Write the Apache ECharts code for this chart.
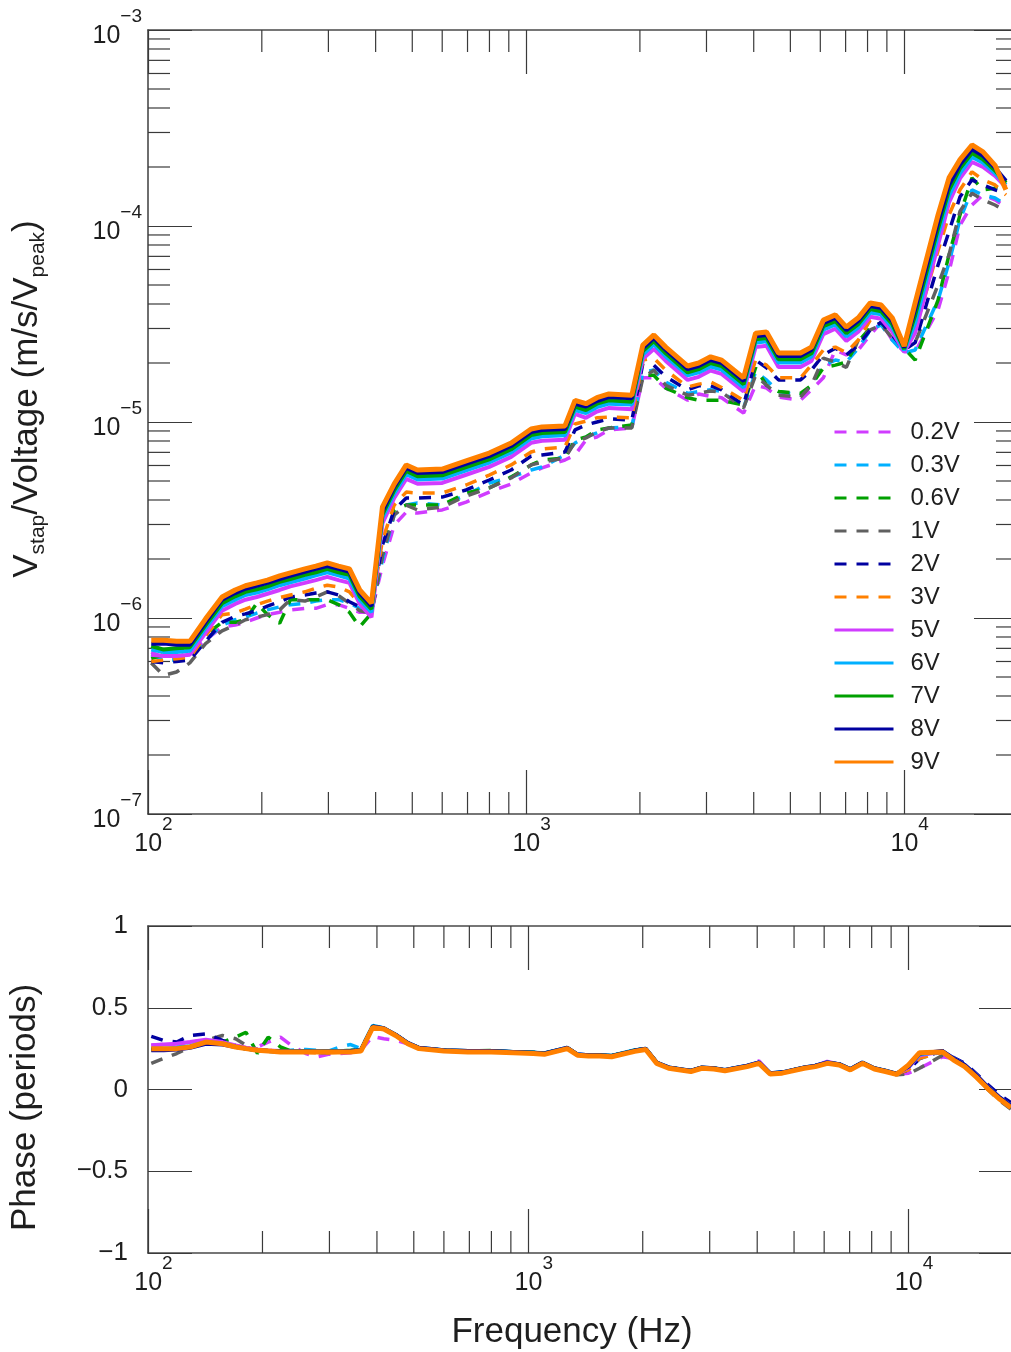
<!DOCTYPE html>
<html>
<head>
<meta charset="utf-8">
<script src="https://cdn.jsdelivr.net/npm/echarts@6/dist/echarts.min.js"></script>
<style>
html, body { margin: 0; padding: 0; background: #fff; overflow: hidden; }
#chart { width: 1011px; height: 1352px; }
</style>
</head>
<body>
<div id="chart"></div>
<script>
// frequency points (Hz), shared by every series
const freq = [102, 110, 119, 129, 142, 157, 170, 181, 194, 207,
  223, 238, 260, 278, 298, 319, 341, 363, 390, 417,
  448, 482, 516, 600, 694, 799, 913, 1031, 1102, 1267,
  1347, 1440, 1539, 1656, 1904, 2036, 2177, 2341, 2676, 2861,
  3077, 3290, 3761, 4045, 4324, 4651, 5317, 5684, 6113, 6576,
  7031, 7562, 8134, 8696, 9297, 10000, 10690, 12290, 13140, 14050,
  15110, 16160, 17390, 18580];

const names = ['0.2V', '0.3V', '0.6V', '1V', '2V', '3V', '5V', '6V', '7V', '8V', '9V'];
const colors = ['#d03cff', '#00b0ff', '#00a000', '#606060', '#0000a0', '#ff8000',
  '#d03cff', '#00b0ff', '#00a000', '#0000a0', '#ff8000'];
const dashed = [true, true, true, true, true, true, false, false, false, false, false];

// magnitude, in 1e-6 m/s/Vpeak
const mag_02V = [0.67, 0.63, 0.63, 0.67, 0.77, 0.90, 0.92, 0.95, 1.00, 1.04,
  1.07, 1.10, 1.12, 1.12, 1.17, 1.17, 1.12, 1.07, 1.07, 1.86,
  2.98, 3.47, 3.43, 3.56, 3.90, 4.39, 4.83, 5.50, 5.83, 6.40,
  6.79, 8.10, 8.39, 9.11, 9.32, 16.8, 16.8, 14.9, 12.9, 13.9,
  13.5, 13.3, 11.1, 15.4, 14.9, 13.4, 12.9, 14.6, 16.8, 23.3,
  22.0, 23.3, 27.8, 32.3, 26.2, 22.8, 22.8, 37.3, 58.4, 101,
  128, 144, 136, 125];
const mag_03V = [0.65, 0.61, 0.61, 0.65, 0.77, 0.92, 0.98, 1.01, 1.06, 1.10,
  1.14, 1.17, 1.19, 1.22, 1.24, 1.24, 1.19, 1.12, 1.10, 1.98,
  3.36, 3.77, 3.86, 3.77, 4.24, 4.88, 5.24, 5.69, 5.89, 6.79,
  7.81, 8.39, 8.79, 9.32, 9.44, 18.0, 18.4, 16.0, 14.0, 14.3,
  14.6, 14.3, 11.8, 18.0, 16.4, 14.3, 13.7, 15.4, 19.5, 20.7,
  20.2, 23.8, 29.5, 31.3, 26.2, 22.5, 23.3, 41.9, 65.0, 108,
  153, 144, 139, 128];
const mag_06V = [0.62, 0.65, 0.67, 0.73, 0.82, 0.95, 0.95, 0.98, 1.19, 1.04,
  0.94, 1.24, 1.24, 1.24, 1.24, 1.17, 1.07, 0.90, 1.06, 2.10,
  3.56, 3.77, 3.77, 3.77, 4.34, 4.61, 5.24, 6.04, 6.40, 6.55,
  8.10, 8.39, 9.11, 9.32, 9.66, 17.3, 17.3, 14.9, 13.3, 12.9,
  12.9, 12.9, 12.2, 18.9, 15.4, 14.3, 14.0, 15.4, 18.9, 19.5,
  20.2, 25.7, 30.3, 32.1, 27.8, 23.8, 20.7, 41.9, 71.3, 114,
  176, 153, 156, 172];
const mag_1V = [0.59, 0.51, 0.53, 0.59, 0.74, 0.86, 0.92, 0.98, 1.01, 1.04,
  1.10, 1.24, 1.22, 1.28, 1.36, 1.30, 1.19, 1.09, 1.06, 2.10,
  3.36, 3.77, 3.56, 3.68, 4.19, 4.61, 5.18, 6.04, 6.24, 6.55,
  7.91, 8.29, 8.89, 9.32, 9.32, 16.8, 18.4, 15.4, 13.7, 14.0,
  14.4, 14.2, 11.8, 17.3, 15.4, 13.7, 13.4, 15.4, 21.2, 20.2,
  19.0, 26.2, 29.5, 31.3, 26.8, 23.8, 25.4, 50.0, 71.3, 119,
  147, 136, 128, 119];
const mag_2V = [0.60, 0.59, 0.60, 0.61, 0.76, 0.95, 1.02, 1.05, 1.09, 1.15,
  1.21, 1.28, 1.31, 1.34, 1.36, 1.31, 1.21, 1.14, 1.17, 2.36,
  3.56, 4.09, 4.09, 4.14, 4.50, 5.06, 5.69, 6.70, 6.79, 7.03,
  9.11, 9.66, 10.0, 10.4, 10.2, 19.9, 19.5, 17.0, 14.6, 15.3,
  15.3, 14.6, 12.2, 20.7, 18.9, 16.4, 16.4, 18.4, 22.0, 23.8,
  22.0, 24.7, 29.5, 32.3, 27.8, 23.3, 25.4, 63.3, 93.6, 141,
  172, 162, 153, 147];
const mag_3V = [0.60, 0.61, 0.62, 0.63, 0.81, 1.04, 1.06, 1.11, 1.17, 1.22,
  1.27, 1.31, 1.36, 1.42, 1.47, 1.44, 1.36, 1.18, 1.10, 2.50,
  3.77, 4.39, 4.34, 4.34, 4.77, 5.36, 6.04, 7.03, 7.29, 7.46,
  9.77, 10.1, 10.5, 10.6, 10.5, 20.7, 21.2, 18.4, 15.1, 15.6,
  16.0, 15.0, 12.9, 20.7, 19.5, 16.8, 16.8, 19.5, 23.3, 24.1,
  22.6, 26.2, 33.1, 35.2, 31.3, 25.4, 29.5, 74.8, 114, 153,
  189, 172, 162, 144];
const mag_5V = [0.65, 0.64, 0.64, 0.65, 0.84, 1.09, 1.18, 1.24, 1.28, 1.33,
  1.39, 1.45, 1.51, 1.56, 1.62, 1.56, 1.51, 1.18, 1.01, 3.05,
  4.10, 5.13, 4.84, 4.89, 5.38, 5.90, 6.64, 7.83, 8.02, 8.12,
  11.0, 10.5, 11.3, 11.8, 11.6, 21.0, 23.6, 20.5, 16.4, 17.0,
  18.3, 17.6, 14.3, 24.1, 24.5, 19.1, 19.1, 20.5, 28.1, 29.9,
  25.9, 28.9, 34.4, 33.6, 28.9, 22.8, 28.5, 80, 132, 175,
  212, 200, 180, 158];
const mag_6V = [0.69, 0.67, 0.67, 0.68, 0.89, 1.15, 1.24, 1.31, 1.35, 1.40,
  1.47, 1.52, 1.59, 1.65, 1.71, 1.65, 1.59, 1.24, 1.07, 3.25,
  4.32, 5.41, 5.09, 5.15, 5.67, 6.21, 6.99, 8.24, 8.45, 8.55,
  11.5, 11.1, 11.9, 12.4, 12.3, 22.1, 24.9, 21.6, 17.3, 17.9,
  19.2, 18.5, 15.0, 25.4, 25.8, 20.1, 20.1, 21.6, 29.6, 31.5,
  27.3, 30.4, 36.2, 35.4, 30.4, 23.2, 32.0, 90, 143, 186,
  225, 210, 186, 162];
const mag_7V = [0.72, 0.69, 0.70, 0.71, 0.92, 1.19, 1.29, 1.36, 1.40, 1.45,
  1.53, 1.58, 1.66, 1.71, 1.78, 1.71, 1.66, 1.29, 1.11, 3.38,
  4.49, 5.62, 5.29, 5.35, 5.89, 6.45, 7.26, 8.57, 8.78, 8.88,
  12.0, 11.5, 12.4, 12.9, 12.7, 23.0, 25.9, 22.4, 17.9, 18.6,
  20.0, 19.3, 15.6, 26.4, 26.8, 20.9, 20.9, 22.4, 30.8, 32.7,
  28.4, 31.6, 37.7, 36.7, 31.6, 23.6, 35.0, 97, 153, 197,
  236, 219, 192, 166];
const mag_8V = [0.74, 0.74, 0.73, 0.73, 0.95, 1.24, 1.34, 1.41, 1.46, 1.51,
  1.58, 1.64, 1.72, 1.78, 1.84, 1.78, 1.72, 1.34, 1.15, 3.50,
  4.66, 5.83, 5.49, 5.55, 6.11, 6.70, 7.54, 8.89, 9.11, 9.22,
  12.4, 12.0, 12.8, 13.4, 13.2, 23.8, 26.8, 23.3, 18.6, 19.3,
  20.7, 20.0, 16.2, 27.4, 27.8, 21.7, 21.7, 23.3, 31.9, 34.0,
  29.4, 32.8, 39.1, 38.1, 32.8, 24.0, 37.5, 104, 162, 206,
  246, 228, 198, 170];
const mag_9V = [0.77, 0.77, 0.76, 0.76, 0.99, 1.28, 1.39, 1.46, 1.51, 1.56,
  1.64, 1.70, 1.78, 1.84, 1.91, 1.84, 1.78, 1.39, 1.19, 3.69,
  4.83, 6.04, 5.69, 5.75, 6.33, 6.94, 7.81, 9.21, 9.44, 9.55,
  12.9, 12.4, 13.3, 13.9, 13.7, 24.7, 27.8, 24.1, 19.3, 20.0,
  21.5, 20.7, 16.8, 28.4, 28.8, 22.5, 22.5, 24.1, 33.1, 35.2,
  30.5, 34.0, 40.5, 39.5, 34.0, 24.4, 40.5, 114, 176, 218,
  259, 239, 204, 153];

// phase, in periods
const ph_02V = [0.27, 0.275, 0.28, 0.29, 0.30, 0.28, 0.26, 0.25, 0.26, 0.29,
  0.32, 0.27, 0.22, 0.20, 0.215, 0.22, 0.225, 0.24, 0.325, 0.31,
  0.30, 0.28, 0.25, 0.235, 0.23, 0.23, 0.225, 0.22, 0.215, 0.25,
  0.21, 0.205, 0.205, 0.20, 0.235, 0.245, 0.16, 0.13, 0.11, 0.13,
  0.125, 0.115, 0.14, 0.175, 0.10, 0.10, 0.13, 0.14, 0.17, 0.15,
  0.12, 0.16, 0.125, 0.11, 0.092, 0.10, 0.13, 0.20, 0.19, 0.15,
  0.085, 0.015, -0.05, -0.10];
const ph_03V = [0.25, 0.25, 0.255, 0.265, 0.285, 0.28, 0.262, 0.25, 0.24, 0.235,
  0.233, 0.24, 0.245, 0.24, 0.235, 0.26, 0.275, 0.25, 0.39, 0.375,
  0.335, 0.285, 0.255, 0.24, 0.236, 0.236, 0.23, 0.226, 0.222, 0.255,
  0.215, 0.21, 0.21, 0.206, 0.24, 0.25, 0.165, 0.135, 0.115, 0.135,
  0.13, 0.12, 0.145, 0.165, 0.10, 0.105, 0.135, 0.145, 0.165, 0.155,
  0.125, 0.165, 0.13, 0.115, 0.097, 0.12, 0.19, 0.233, 0.19, 0.15,
  0.085, 0.015, -0.05, -0.10];
const ph_06V = [0.25, 0.25, 0.255, 0.265, 0.28, 0.29, 0.32, 0.35, 0.22, 0.32,
  0.26, 0.235, 0.235, 0.232, 0.232, 0.235, 0.24, 0.245, 0.38, 0.37,
  0.335, 0.285, 0.255, 0.24, 0.235, 0.238, 0.23, 0.228, 0.222, 0.255,
  0.215, 0.21, 0.212, 0.207, 0.24, 0.25, 0.165, 0.135, 0.115, 0.135,
  0.13, 0.12, 0.145, 0.165, 0.10, 0.105, 0.135, 0.145, 0.165, 0.155,
  0.125, 0.165, 0.13, 0.115, 0.097, 0.13, 0.20, 0.235, 0.19, 0.15,
  0.085, 0.015, -0.05, -0.10];
const ph_1V = [0.16, 0.19, 0.22, 0.26, 0.30, 0.33, 0.31, 0.27, 0.245, 0.235,
  0.232, 0.23, 0.228, 0.225, 0.225, 0.228, 0.232, 0.24, 0.38, 0.37,
  0.33, 0.283, 0.253, 0.238, 0.235, 0.235, 0.228, 0.225, 0.22, 0.253,
  0.213, 0.208, 0.21, 0.205, 0.238, 0.248, 0.163, 0.133, 0.113, 0.133,
  0.128, 0.118, 0.143, 0.163, 0.098, 0.103, 0.133, 0.143, 0.163, 0.153,
  0.123, 0.163, 0.128, 0.113, 0.09, 0.095, 0.13, 0.21, 0.19, 0.15,
  0.08, 0.0, -0.07, -0.12];
const ph_2V = [0.325, 0.30, 0.29, 0.33, 0.34, 0.30, 0.27, 0.25, 0.24, 0.235,
  0.232, 0.232, 0.232, 0.232, 0.232, 0.232, 0.235, 0.24, 0.385, 0.375,
  0.335, 0.285, 0.255, 0.24, 0.235, 0.235, 0.23, 0.225, 0.22, 0.255,
  0.215, 0.21, 0.21, 0.205, 0.238, 0.25, 0.165, 0.135, 0.115, 0.135,
  0.13, 0.12, 0.145, 0.165, 0.10, 0.105, 0.135, 0.145, 0.165, 0.155,
  0.125, 0.165, 0.13, 0.115, 0.097, 0.12, 0.19, 0.235, 0.195, 0.16,
  0.095, 0.03, -0.035, -0.08];
const ph_3V = [0.25, 0.25, 0.255, 0.265, 0.29, 0.285, 0.265, 0.255, 0.245, 0.24,
  0.235, 0.232, 0.228, 0.225, 0.225, 0.228, 0.232, 0.24, 0.38, 0.37,
  0.33, 0.283, 0.253, 0.238, 0.235, 0.235, 0.228, 0.225, 0.22, 0.253,
  0.213, 0.208, 0.21, 0.205, 0.238, 0.248, 0.163, 0.133, 0.113, 0.133,
  0.128, 0.118, 0.143, 0.163, 0.098, 0.103, 0.133, 0.143, 0.163, 0.153,
  0.123, 0.163, 0.128, 0.113, 0.095, 0.12, 0.19, 0.23, 0.19, 0.15,
  0.085, 0.015, -0.05, -0.10];
const ph_5V = [0.27, 0.275, 0.28, 0.29, 0.305, 0.29, 0.27, 0.255, 0.245, 0.238,
  0.235, 0.233, 0.233, 0.233, 0.233, 0.233, 0.236, 0.24, 0.385, 0.372,
  0.333, 0.283, 0.253, 0.238, 0.235, 0.235, 0.228, 0.225, 0.22, 0.253,
  0.213, 0.208, 0.21, 0.205, 0.238, 0.248, 0.163, 0.133, 0.113, 0.133,
  0.128, 0.118, 0.143, 0.165, 0.10, 0.103, 0.133, 0.143, 0.17, 0.153,
  0.123, 0.163, 0.128, 0.113, 0.095, 0.135, 0.21, 0.232, 0.19, 0.15,
  0.085, 0.015, -0.05, -0.10];
const ph_6V = [0.25, 0.25, 0.255, 0.265, 0.29, 0.28, 0.262, 0.25, 0.24, 0.235,
  0.233, 0.233, 0.233, 0.233, 0.233, 0.233, 0.235, 0.24, 0.39, 0.375,
  0.335, 0.285, 0.255, 0.24, 0.236, 0.236, 0.23, 0.226, 0.222, 0.255,
  0.215, 0.21, 0.21, 0.206, 0.24, 0.25, 0.165, 0.135, 0.115, 0.135,
  0.13, 0.12, 0.145, 0.165, 0.10, 0.105, 0.135, 0.145, 0.165, 0.155,
  0.125, 0.165, 0.13, 0.115, 0.097, 0.14, 0.215, 0.233, 0.19, 0.15,
  0.085, 0.015, -0.05, -0.10];
const ph_7V = [0.245, 0.245, 0.25, 0.26, 0.285, 0.28, 0.262, 0.25, 0.24, 0.235,
  0.232, 0.232, 0.232, 0.232, 0.232, 0.232, 0.235, 0.24, 0.385, 0.372,
  0.333, 0.283, 0.253, 0.238, 0.235, 0.235, 0.228, 0.225, 0.22, 0.253,
  0.213, 0.208, 0.21, 0.205, 0.238, 0.248, 0.163, 0.133, 0.113, 0.133,
  0.128, 0.118, 0.143, 0.163, 0.098, 0.103, 0.133, 0.143, 0.163, 0.153,
  0.123, 0.163, 0.128, 0.113, 0.095, 0.145, 0.222, 0.232, 0.185, 0.145,
  0.08, 0.01, -0.055, -0.105];
const ph_8V = [0.24, 0.24, 0.245, 0.255, 0.28, 0.275, 0.26, 0.25, 0.24, 0.235,
  0.232, 0.232, 0.232, 0.232, 0.232, 0.232, 0.235, 0.24, 0.385, 0.375,
  0.335, 0.285, 0.255, 0.24, 0.235, 0.235, 0.23, 0.225, 0.22, 0.255,
  0.215, 0.21, 0.21, 0.205, 0.238, 0.25, 0.165, 0.135, 0.115, 0.135,
  0.13, 0.12, 0.145, 0.165, 0.10, 0.105, 0.135, 0.145, 0.165, 0.155,
  0.125, 0.165, 0.13, 0.115, 0.097, 0.14, 0.22, 0.235, 0.19, 0.15,
  0.085, 0.015, -0.05, -0.10];
const ph_9V = [0.25, 0.25, 0.25, 0.26, 0.29, 0.28, 0.26, 0.25, 0.24, 0.235,
  0.23, 0.23, 0.23, 0.23, 0.23, 0.23, 0.23, 0.235, 0.38, 0.37,
  0.33, 0.28, 0.25, 0.235, 0.23, 0.23, 0.225, 0.22, 0.215, 0.25,
  0.21, 0.205, 0.205, 0.20, 0.233, 0.245, 0.16, 0.13, 0.11, 0.13,
  0.125, 0.115, 0.14, 0.16, 0.095, 0.10, 0.13, 0.14, 0.16, 0.15,
  0.12, 0.16, 0.125, 0.11, 0.092, 0.15, 0.225, 0.23, 0.18, 0.14,
  0.074, 0.006, -0.06, -0.11];

const magData = [mag_02V, mag_03V, mag_06V, mag_1V, mag_2V, mag_3V, mag_5V, mag_6V, mag_7V, mag_8V, mag_9V];
const phData = [ph_02V, ph_03V, ph_06V, ph_1V, ph_2V, ph_3V, ph_5V, ph_6V, ph_7V, ph_8V, ph_9V];

// axis ranges and tick values
const F_MIN = 100, F_MAX = 20000;
const MAG_MIN = 1e-7, MAG_MAX = 1e-3;
const xMinorTicks = [200, 300, 400, 500, 600, 700, 800, 900,
  2000, 3000, 4000, 5000, 6000, 7000, 8000, 9000];
const yMinorTicks = [2e-7, 3e-7, 4e-7, 5e-7, 6e-7, 7e-7, 8e-7, 9e-7,
  2e-6, 3e-6, 4e-6, 5e-6, 6e-6, 7e-6, 8e-6, 9e-6,
  2e-5, 3e-5, 4e-5, 5e-5, 6e-5, 7e-5, 8e-5, 9e-5,
  2e-4, 3e-4, 4e-4, 5e-4, 6e-4, 7e-4, 8e-4, 9e-4];

const FONT = "'Liberation Sans', Arial, Helvetica, sans-serif";
const TXT = '#1e1e1e';
const AXIS_LINE = { color: '#4a4a4a', width: 1.6 };
const TICK = { stroke: '#3a3a3a', lineWidth: 1.2 };
const MAJOR_LEN = 44, MINOR_LEN = 22;

const powRich = {
    b: { fontSize: 25, lineHeight: 42, verticalAlign: 'bottom', fontFamily: FONT, color: TXT },
    s: { fontSize: 19, lineHeight: 19, verticalAlign: 'top', fontFamily: FONT, color: TXT }
};
function powLabel(v) {
    const e = Math.round(Math.log10(v));
    if (Math.abs(Math.log10(v) - e) > 1e-6) return '';
    return '{b|10}{s|' + String(e).replace('-', '\u2212') + '}';
}

function xMinorRender(params, api) {
    const cs = params.coordSys;
    const x = api.coord([api.value(0), api.value(1)])[0];
    const yb = cs.y + cs.height;
    return {
        type: 'group', children: [
            { type: 'line', shape: { x1: x, y1: yb, x2: x, y2: yb - MINOR_LEN }, style: TICK },
            { type: 'line', shape: { x1: x, y1: cs.y, x2: x, y2: cs.y + MINOR_LEN }, style: TICK }
        ]
    };
}
function yMinorRender(params, api) {
    const cs = params.coordSys;
    const y = api.coord([api.value(0), api.value(1)])[1];
    const xr = cs.x + cs.width;
    return {
        type: 'group', children: [
            { type: 'line', shape: { x1: cs.x, y1: y, x2: cs.x + MINOR_LEN, y2: y }, style: TICK },
            { type: 'line', shape: { x1: xr, y1: y, x2: xr - MINOR_LEN, y2: y }, style: TICK }
        ]
    };
}

const series = [];
names.forEach((name, i) => {
    const solid = !dashed[i];
    const lineStyle = {
        color: colors[i],
        width: name === '9V' ? 5 : (solid ? 4 : 3.5),
        type: solid ? 'solid' : [12, 10]
    };
    series.push({
        name: name, type: 'line', xAxisIndex: 0, yAxisIndex: 0,
        symbol: 'none', clip: true, lineStyle: lineStyle, itemStyle: { color: colors[i] },
        data: freq.map((f, k) => [f, magData[i][k] * 1e-6])
    });
    series.push({
        name: name, type: 'line', xAxisIndex: 2, yAxisIndex: 2,
        symbol: 'none', clip: true, lineStyle: lineStyle, itemStyle: { color: colors[i] },
        data: freq.map((f, k) => [f, phData[i][k]])
    });
});
series.push({
    type: 'custom', xAxisIndex: 0, yAxisIndex: 0, silent: true, renderItem: xMinorRender,
    data: xMinorTicks.map(v => [v, MAG_MIN])
});
series.push({
    type: 'custom', xAxisIndex: 0, yAxisIndex: 0, silent: true, renderItem: yMinorRender,
    data: yMinorTicks.map(v => [F_MIN, v])
});
series.push({
    type: 'custom', xAxisIndex: 2, yAxisIndex: 2, silent: true, renderItem: xMinorRender,
    data: xMinorTicks.map(v => [v, 0])
});

function logX(grid, pos, labels, extra) {
    return Object.assign({
        gridIndex: grid, type: 'log', logBase: 10, min: F_MIN, max: F_MAX, position: pos,
        axisLine: { show: true, onZero: false, lineStyle: AXIS_LINE },
        axisTick: { show: true, inside: true, length: MAJOR_LEN, lineStyle: { color: TICK.stroke, width: TICK.lineWidth } },
        splitLine: { show: false },
        axisLabel: labels ? {
            show: true, formatter: powLabel, rich: powRich, margin: 1,
            padding: [0, 0, 0, 11], showMaxLabel: false
        } : { show: false }
    }, extra || {});
}

const option = {
    backgroundColor: '#ffffff',
    animation: false,
    textStyle: { fontFamily: FONT },
    grid: [
        { left: 148, top: 30, width: 870, height: 784, containLabel: false, outerBoundsMode: 'none' },
        { left: 148, top: 926, width: 875, height: 327, containLabel: false, outerBoundsMode: 'none' }
    ],
    legend: {
        orient: 'vertical', left: 833, top: 419, padding: 0,
        itemWidth: 59, itemHeight: 14, itemGap: 7,
        selectedMode: false,
        data: names,
        itemStyle: { opacity: 0, borderWidth: 0 },
        lineStyle: { width: 3 },
        textStyle: { fontSize: 24, lineHeight: 26, color: TXT, fontFamily: FONT, padding: [0, 0, 0, 12] }
    },
    xAxis: [
        logX(0, 'bottom', true),
        logX(0, 'top', false),
        logX(1, 'bottom', true, {
            name: 'Frequency (Hz)', nameLocation: 'middle', nameGap: 57, nameMoveOverlap: false,
            nameTextStyle: { fontSize: 35, lineHeight: 44, color: TXT, fontFamily: FONT, padding: [0, 27, 0, 0] }
        }),
        logX(1, 'top', false)
    ],
    yAxis: [
        {
            gridIndex: 0, type: 'log', logBase: 10, min: MAG_MIN, max: MAG_MAX, position: 'left',
            axisLine: { show: true, lineStyle: AXIS_LINE },
            axisTick: { show: true, inside: true, length: MAJOR_LEN, lineStyle: { color: TICK.stroke, width: TICK.lineWidth } },
            splitLine: { show: false },
            axisLabel: { formatter: powLabel, rich: powRich, margin: 6, padding: [0, 0, 4, 0] },
            name: 'V{sub|stap}/Voltage (m/s/V{sub|peak})',
            nameLocation: 'middle', nameRotate: 90, nameGap: 99, nameMoveOverlap: false,
            nameTextStyle: {
                fontSize: 35, lineHeight: 44, color: TXT, fontFamily: FONT, padding: [0, 0, 0, 46],
                rich: { sub: { fontSize: 21, lineHeight: 21, verticalAlign: 'bottom', color: TXT, fontFamily: FONT } }
            }
        },
        {
            gridIndex: 0, type: 'log', logBase: 10, min: MAG_MIN, max: MAG_MAX, position: 'right',
            axisLine: { show: true, lineStyle: AXIS_LINE },
            axisTick: { show: true, inside: true, length: MAJOR_LEN, lineStyle: { color: TICK.stroke, width: TICK.lineWidth } },
            splitLine: { show: false }, axisLabel: { show: false }
        },
        {
            gridIndex: 1, type: 'value', min: -1, max: 1, interval: 0.5, position: 'left',
            axisLine: { show: true, onZero: false, lineStyle: AXIS_LINE },
            axisTick: { show: true, inside: true, length: MAJOR_LEN, lineStyle: { color: TICK.stroke, width: TICK.lineWidth } },
            splitLine: { show: false },
            axisLabel: {
                fontSize: 26, color: TXT, fontFamily: FONT, margin: 20,
                formatter: v => (v < 0 ? '\u2212' : '') + Math.abs(v)
            },
            name: 'Phase (periods)', nameLocation: 'middle', nameRotate: 90, nameGap: 101, nameMoveOverlap: false,
            nameTextStyle: { fontSize: 35, lineHeight: 44, color: TXT, fontFamily: FONT, padding: [0, 36, 0, 0] }
        },
        {
            gridIndex: 1, type: 'value', min: -1, max: 1, interval: 0.5, position: 'right',
            axisLine: { show: true, onZero: false, lineStyle: AXIS_LINE },
            axisTick: { show: true, inside: true, length: MAJOR_LEN, lineStyle: { color: TICK.stroke, width: TICK.lineWidth } },
            splitLine: { show: false }, axisLabel: { show: false }
        }
    ],
    series: series
};

const chart = echarts.init(document.getElementById('chart'), null, { renderer: 'canvas' });
chart.setOption(option);
window.addEventListener('resize', function () { chart.resize(); });
</script>
</body>
</html>
